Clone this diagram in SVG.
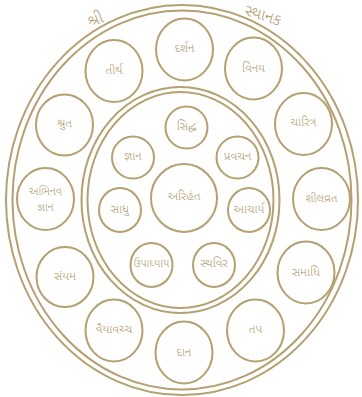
<svg xmlns="http://www.w3.org/2000/svg" width="362" height="397" viewBox="0 0 362 397">
<style>
.c{fill:none;stroke:#b4a070;stroke-width:2}
.r{fill:none;stroke:#b4a070;stroke-width:2}
.t{font-family:"Noto Sans Gujarati","Noto Sans",sans-serif;font-size:12px;font-weight:300;fill:#ad9868;text-anchor:middle;dominant-baseline:central}
.h{font-family:"Noto Sans Gujarati","Noto Sans",sans-serif;font-size:16px;font-weight:300;fill:#ad9868}
</style>
<defs>
<path id="arc" d="M 90 27 A 260 260 0 0 1 279 26"/>
</defs>
<rect width="362" height="397" fill="#ffffff"/>
<g id="title">
<text class="h"><textPath href="#arc" startOffset="0">શ્રી</textPath></text>
<text class="h" text-anchor="end"><textPath href="#arc" startOffset="100%">સ્થાનક</textPath></text>
</g>
<g id="rings">
<ellipse class="r" cx="182" cy="200" rx="176" ry="195"/>
<ellipse class="r" cx="182" cy="200" rx="169.5" ry="189.5"/>
<ellipse class="r" cx="180.5" cy="200" rx="99" ry="113"/>
<ellipse class="r" cx="180.5" cy="200" rx="93" ry="108"/>
</g>
<g id="darshan"><ellipse class="c" cx="184.5" cy="49.5" rx="28.5" ry="31"/><text class="t" x="184.5" y="49">દર્શન</text></g>
<g id="vinay"><ellipse class="c" cx="253.5" cy="68.5" rx="28.5" ry="31"/><text class="t" x="253.5" y="69">વિનય</text></g>
<g id="charitra"><ellipse class="c" cx="303.5" cy="124" rx="28.5" ry="31"/><text class="t" x="303.5" y="123">ચારિત્ર</text></g>
<g id="shilvrat"><ellipse class="c" cx="321.5" cy="199" rx="28.5" ry="31"/><text class="t" x="321.5" y="199">શીલવ્રત</text></g>
<g id="samadhi"><ellipse class="c" cx="306" cy="272.5" rx="28.5" ry="31"/><text class="t" x="306" y="273">સમાધિ</text></g>
<g id="tap"><ellipse class="c" cx="255.5" cy="330.5" rx="28.5" ry="31"/><text class="t" x="255.5" y="330">તપ</text></g>
<g id="daan"><ellipse class="c" cx="184" cy="352.5" rx="28.5" ry="31"/><text class="t" x="184" y="353">દાન</text></g>
<g id="vaiyavachch"><ellipse class="c" cx="114" cy="330.5" rx="28.5" ry="31"/><text class="t" x="114" y="330">વૈયાવચ્ચ</text></g>
<g id="sanyam"><ellipse class="c" cx="65" cy="277" rx="28.5" ry="30"/><text class="t" x="65" y="277">સંયમ</text></g>
<g id="abhinav-gyan"><ellipse class="c" cx="45.5" cy="199" rx="28.5" ry="31"/><text class="t" style="font-size:11px"><tspan x="45.5" y="192">અભિનવ</tspan><tspan x="45.5" y="208">જ્ઞાન</tspan></text></g>
<g id="shrut"><ellipse class="c" cx="64.5" cy="125" rx="28.5" ry="30.5"/><text class="t" x="64.5" y="124">શ્રુત</text></g>
<g id="tirth"><ellipse class="c" cx="114" cy="71" rx="28.5" ry="31"/><text class="t" x="114" y="71">તીર્થ</text></g>
<g id="siddh"><ellipse class="c" cx="186.5" cy="127.5" rx="21" ry="21"/><text class="t" x="186.5" y="127">સિદ્ધ</text></g>
<g id="pravachan"><ellipse class="c" cx="237.5" cy="157.5" rx="21" ry="21"/><text class="t" x="237.5" y="157">પ્રવચન</text></g>
<g id="acharya"><ellipse class="c" cx="249" cy="210" rx="21" ry="22"/><text class="t" x="249" y="210">આચાર્ય</text></g>
<g id="sthavir"><ellipse class="c" cx="214" cy="265" rx="21" ry="22"/><text class="t" x="214" y="264">સ્થવિર</text></g>
<g id="upadhyay"><ellipse class="c" cx="151.5" cy="265" rx="21" ry="22"/><text class="t" x="151.5" y="264" style="font-size:11px">ઉપાધ્યાય</text></g>
<g id="sadhu"><ellipse class="c" cx="120" cy="210" rx="21" ry="22"/><text class="t" x="120" y="210">સાધુ</text></g>
<g id="gyan"><ellipse class="c" cx="133" cy="157.5" rx="21" ry="21"/><text class="t" x="133" y="157">જ્ઞાન</text></g>
<g id="arihant"><ellipse class="c" cx="184" cy="198" rx="33" ry="34"/><text class="t" x="184" y="197">અરિહંત</text></g>
</svg>
